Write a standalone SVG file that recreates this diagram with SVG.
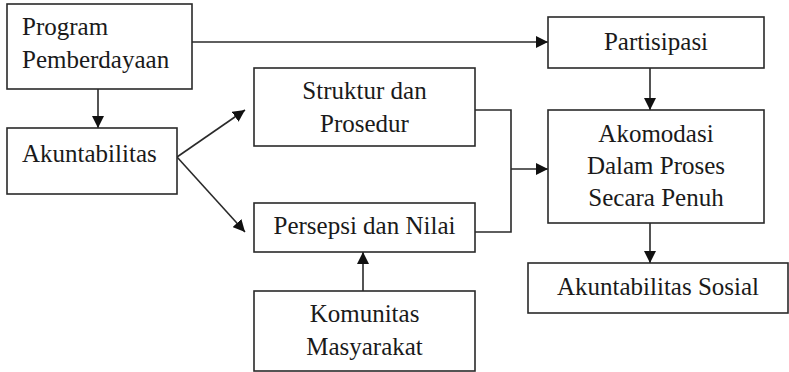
<svg xmlns="http://www.w3.org/2000/svg" width="789" height="372" viewBox="0 0 789 372">
<style>
rect{fill:#fff;stroke:#2a2a2a;stroke-width:1.6}
text{font-family:"Liberation Serif","Times New Roman",serif;font-size:25px;fill:#1a1a1a}
.c{text-anchor:middle}
.ln{fill:none;stroke:#2a2a2a;stroke-width:1.6}
</style>
<defs>
<marker id="ah" markerUnits="userSpaceOnUse" markerWidth="12" markerHeight="12" refX="12" refY="6" orient="auto">
<path d="M0,0 L12,6 L0,12 z" fill="#111"/>
</marker>
</defs>
<rect width="789" height="372" style="fill:#fff;stroke:none"/>
<g id="connectors">
<line class="ln" x1="192" y1="42" x2="548" y2="42" marker-end="url(#ah)"/>
<line class="ln" x1="98" y1="89" x2="98" y2="128" marker-end="url(#ah)"/>
<line class="ln" x1="177" y1="157" x2="245" y2="110" marker-end="url(#ah)"/>
<line class="ln" x1="177" y1="157" x2="245" y2="232" marker-end="url(#ah)"/>
<polyline class="ln" points="475,110 511,110 511,232 475,232"/>
<line class="ln" x1="511" y1="169" x2="548" y2="169" marker-end="url(#ah)"/>
<line class="ln" x1="650" y1="68" x2="650" y2="110" marker-end="url(#ah)"/>
<line class="ln" x1="650" y1="223" x2="650" y2="263" marker-end="url(#ah)"/>
<line class="ln" x1="363" y1="291" x2="363" y2="252" marker-end="url(#ah)"/>
</g>
<g id="program">
<rect x="7" y="4" width="185" height="85"/>
<text x="22" y="35">Program</text>
<text x="22" y="68">Pemberdayaan</text>
</g>
<g id="akuntabilitas">
<rect x="7" y="128" width="170" height="66"/>
<text x="22" y="162">Akuntabilitas</text>
</g>
<g id="struktur">
<rect x="254" y="68" width="221" height="78"/>
<text class="c" x="364.5" y="99">Struktur dan</text>
<text class="c" x="364.5" y="132">Prosedur</text>
</g>
<g id="persepsi">
<rect x="254" y="203" width="221" height="49"/>
<text class="c" x="364.5" y="234">Persepsi dan Nilai</text>
</g>
<g id="komunitas">
<rect x="254" y="291" width="221" height="80"/>
<text class="c" x="364.5" y="322">Komunitas</text>
<text class="c" x="364.5" y="355">Masyarakat</text>
</g>
<g id="partisipasi">
<rect x="548" y="17" width="216" height="51"/>
<text class="c" x="656" y="50">Partisipasi</text>
</g>
<g id="akomodasi">
<rect x="548" y="110" width="216" height="113"/>
<text class="c" x="656" y="142">Akomodasi</text>
<text class="c" x="656" y="174">Dalam Proses</text>
<text class="c" x="656" y="206">Secara Penuh</text>
</g>
<g id="akuntabilitas-sosial">
<rect x="528" y="263" width="260" height="50"/>
<text class="c" x="658" y="295">Akuntabilitas Sosial</text>
</g>
</svg>
